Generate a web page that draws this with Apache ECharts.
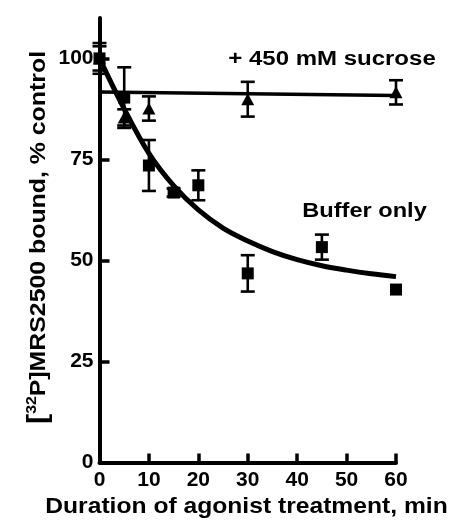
<!DOCTYPE html>
<html>
<head>
<meta charset="utf-8">
<script src="https://cdn.jsdelivr.net/npm/echarts@6/dist/echarts.min.js"></script>
<style>
  html, body { margin: 0; padding: 0; background: #fff; }
  #chart { width: 450px; height: 525px; }
</style>
</head>
<body>
<div id="chart"></div>
<script>
// ---- data ----
const xTicks = [0, 10, 20, 30, 40, 50, 60];
const yTicks = [0, 25, 50, 75, 100];

const bufferTime = [0, 5, 10, 15, 20, 30, 45, 60];
const bufferMean = [100, 90.3, 73.5, 66.8, 68.6, 46.8, 53.3, 42.8];
const bufferSem  = [3.8, 7.5, 6.3, 1.0, 3.7, 4.5, 3.1, 0];

const sucroseTime = [0, 5, 10, 30, 60];
const sucroseMean = [100, 85.4, 87.6, 89.9, 91.6];
const sucroseSem  = [3.0, 2.0, 3.0, 4.3, 3.0];

const bufferFitTime  = [0, 5, 10, 15, 20, 25, 30, 35, 40, 45, 50, 55, 60];
const bufferFitValue = [100, 87.5, 76.5, 68.5, 62.5, 58, 54.8, 52.2, 50.2, 48.7, 47.6, 46.7, 46];

const sucroseFitTime  = [0, 60];
const sucroseFitValue = [91.7, 90.8];

const xTitle = 'Duration of agonist treatment, min';
const yTitleParts = ['[', '32', 'P]MRS2500 bound, % control'];
const labelSucrose = '+ 450 mM sucrose';
const labelBuffer = 'Buffer only';

// ---- build ----
const pairs = (xs, ys) => xs.map((x, i) => [x, ys[i]]);
const triples = (xs, ys, es) => xs.map((x, i) => [x, ys[i], es[i]]);

const FONT = '"Liberation Sans", Arial, sans-serif';

function errRender(params, api) {
  const x = api.value(0), y = api.value(1), e = api.value(2);
  if (!e) return null;
  const top = api.coord([x, y + e]);
  const bot = api.coord([x, y - e]);
  const hw = 7;
  const st = { stroke: '#000', lineWidth: 2.6, opacity: 1 };
  return {
    type: 'group',
    children: [
      { type: 'line', shape: { x1: top[0], y1: top[1], x2: bot[0], y2: bot[1] }, style: st },
      { type: 'line', shape: { x1: top[0] - hw, y1: top[1], x2: top[0] + hw, y2: top[1] }, style: st },
      { type: 'line', shape: { x1: bot[0] - hw, y1: bot[1], x2: bot[0] + hw, y2: bot[1] }, style: st }
    ]
  };
}

const chart = echarts.init(document.getElementById('chart'), null, { renderer: 'canvas' });

chart.setOption({
  backgroundColor: '#fff',
  animation: false,
  grid: { left: 99.5, right: 54, top: 18, bottom: 62.5, containLabel: false },
  xAxis: {
    type: 'value', min: 0, max: 60, interval: 10,
    axisLine: { show: true, lineStyle: { color: '#000', width: 4 } },
    axisTick: { show: true, inside: true, length: 9, lineStyle: { color: '#000', width: 3.5 } },
    axisLabel: {
      show: true, color: '#000', fontFamily: FONT, fontWeight: 'bold', fontSize: 21, margin: 7,
      showMinLabel: true, showMaxLabel: true, hideOverlap: false
    },
    splitLine: { show: false }
  },
  yAxis: {
    type: 'value', min: 0, max: 110, interval: 25,
    axisLine: { show: true, lineStyle: { color: '#000', width: 4 } },
    axisTick: { show: true, inside: true, length: 10, customValues: yTicks, lineStyle: { color: '#000', width: 3.5 } },
    axisLabel: {
      show: true, color: '#000', fontFamily: FONT, fontWeight: 'bold', fontSize: 21, margin: 6,
      customValues: yTicks, hideOverlap: false
    },
    splitLine: { show: false }
  },
  series: [
    {
      type: 'line', data: pairs(sucroseFitTime, sucroseFitValue),
      symbol: 'none', lineStyle: { color: '#000', width: 3.5, opacity: 1 }, z: 3, silent: true
    },
    {
      type: 'line', data: pairs(bufferFitTime, bufferFitValue),
      symbol: 'none', smooth: 0.35,
      lineStyle: { color: '#000', width: 5, opacity: 1 }, z: 3, silent: true
    },
    {
      type: 'custom', renderItem: errRender, data: triples(sucroseTime, sucroseMean, sucroseSem),
      encode: { x: 0, y: 1 }, z: 4, clip: false, silent: true
    },
    {
      type: 'custom', renderItem: errRender, data: triples(bufferTime, bufferMean, bufferSem),
      encode: { x: 0, y: 1 }, z: 4, clip: false, silent: true
    },
    {
      type: 'scatter', data: pairs(sucroseTime, sucroseMean), symbol: 'triangle', symbolSize: [13, 12],
      itemStyle: { color: '#000', opacity: 1 }, z: 5, clip: false, silent: true
    },
    {
      type: 'scatter', data: pairs(bufferTime, bufferMean), symbol: 'rect', symbolSize: 12,
      itemStyle: { color: '#000', opacity: 1 }, z: 5, clip: false, silent: true
    }
  ],
  graphic: [
    {
      type: 'text', x: 246.5, y: 507, scaleX: 1.12,
      style: { text: xTitle, fill: '#000', font: 'bold 22px ' + FONT, textAlign: 'center', textVerticalAlign: 'middle' }
    },
    {
      type: 'text', x: 39, y: 237.5, rotation: Math.PI / 2, scaleX: 1.13,
      style: {
        text: '{br|' + yTitleParts[0] + '}{sup|' + yTitleParts[1] + '}{t|' + yTitleParts[2] + '}',
        fill: '#000', textAlign: 'center', textVerticalAlign: 'middle',
        rich: {
          br: { fontFamily: FONT, fontWeight: 'bold', fontSize: 27, fill: '#000', verticalAlign: 'bottom' },
          sup: { fontFamily: FONT, fontWeight: 'bold', fontSize: 14, fill: '#000', verticalAlign: 'top' },
          t: { fontFamily: FONT, fontWeight: 'bold', fontSize: 22, fill: '#000' }
        }
      }
    },
    {
      type: 'text', x: 332, y: 59, scaleX: 1.2,
      style: { text: labelSucrose, fill: '#000', font: 'bold 20px ' + FONT, textAlign: 'center', textVerticalAlign: 'middle' }
    },
    {
      type: 'text', x: 364.5, y: 211, scaleX: 1.18,
      style: { text: labelBuffer, fill: '#000', font: 'bold 20px ' + FONT, textAlign: 'center', textVerticalAlign: 'middle' }
    }
  ]
});
</script>
</body>
</html>
